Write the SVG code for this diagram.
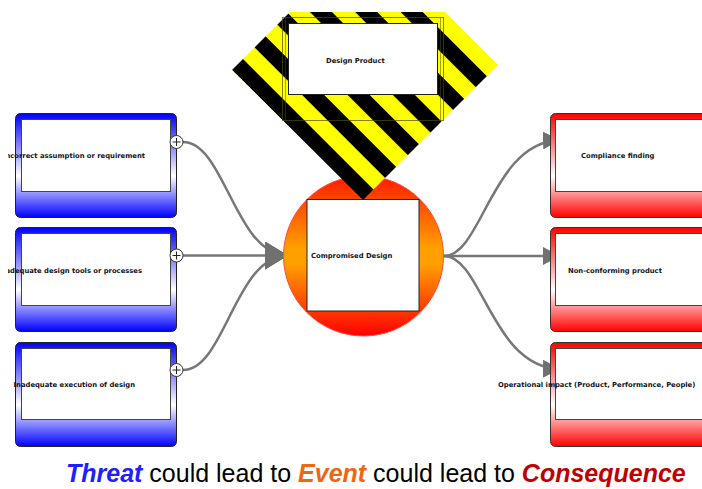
<svg xmlns="http://www.w3.org/2000/svg" width="702" height="489" viewBox="0 0 702 489">
<style>
.lbl{font-family:"DejaVu Sans",Verdana,sans-serif;font-weight:bold;font-size:6.8px;fill:#111122}
.outerB{fill:url(#gBlue);stroke:#222;stroke-width:1}
.outerR{fill:url(#gRed);stroke:#333;stroke-width:1}
.inner{fill:#fff;stroke:#444;stroke-width:1}
.conn{fill:none;stroke:#777;stroke-width:2.5}
.plus{fill:#fff;stroke:#333;stroke-width:1}
.pl{stroke:#222;stroke-width:1}
.cap{font-family:"Liberation Sans",Arial,sans-serif;font-size:25px;fill:#000}
</style>
<defs>
<linearGradient id="gBlue" x1="0" y1="0" x2="0" y2="1">
<stop offset="0" stop-color="#0000ff"/>
<stop offset="0.6" stop-color="#ffffff"/>
<stop offset="1" stop-color="#0000ff"/>
</linearGradient>
<linearGradient id="gRed" x1="0" y1="0" x2="0" y2="1">
<stop offset="0" stop-color="#ff0000"/>
<stop offset="0.6" stop-color="#ffffff"/>
<stop offset="1" stop-color="#ff0000"/>
</linearGradient>
<linearGradient id="gCirc" x1="0" y1="0" x2="0" y2="1">
<stop offset="0" stop-color="#ff1a00"/>
<stop offset="0.45" stop-color="#ffa000"/>
<stop offset="0.55" stop-color="#ffa000"/>
<stop offset="1" stop-color="#ff0000"/>
</linearGradient>
<pattern id="stripes" patternUnits="userSpaceOnUse" width="40" height="32.05" patternTransform="rotate(45) translate(0,30.15)">
<rect x="0" y="0" width="40" height="32.05" fill="#ffff00"/>
<rect x="0" y="0" width="40" height="15.6" fill="#000"/>
</pattern>
<marker id="arrL" markerUnits="userSpaceOnUse" markerWidth="23" markerHeight="28" refX="23" refY="14" orient="auto">
<path d="M0,0 L23,14 L0,28 z" fill="#707070"/>
</marker>
<marker id="arrR" markerUnits="userSpaceOnUse" markerWidth="17" markerHeight="18" refX="17" refY="9" orient="auto">
<path d="M0,0 L17,9 L0,18 z" fill="#707070"/>
</marker>
<clipPath id="clipL"><rect x="8" y="0" width="200" height="489"/></clipPath>
</defs>

<g id="connectors">
<path class="conn" d="M183,142 C225,142 235,255.5 288,255.5" marker-end="url(#arrL)"/>
<path class="conn" d="M183,255.5 L288,255.5" marker-end="url(#arrL)"/>
<path class="conn" d="M183,370 C225,370 235,255.5 288,255.5" marker-end="url(#arrL)"/>
<path class="conn" d="M444,256 C482,256 492,142 560,140" marker-end="url(#arrR)"/>
<path class="conn" d="M444,256 L560,256" marker-end="url(#arrR)"/>
<path class="conn" d="M444,256 C482,256 492,368 560,369" marker-end="url(#arrR)"/>
</g>

<g id="threat1">
<rect class="outerB" x="15.5" y="113.5" width="161" height="104" rx="5"/>
<rect class="inner" x="21.5" y="119.5" width="149" height="72"/>
<text class="lbl" x="145" y="157.5" text-anchor="end" clip-path="url(#clipL)">Incorrect assumption or requirement</text>
<circle class="plus" cx="176.5" cy="142" r="6.5"/>
<path class="pl" d="M172.5,142 H180.5 M176.5,138 V146"/>
</g>
<g id="threat2">
<rect class="outerB" x="15.5" y="227.5" width="161" height="104" rx="5"/>
<rect class="inner" x="21.5" y="233.5" width="149" height="72"/>
<text class="lbl" x="142" y="273" text-anchor="end" clip-path="url(#clipL)">Inadequate design tools or processes</text>
<circle class="plus" cx="176.5" cy="255.5" r="6.5"/>
<path class="pl" d="M172.5,255.5 H180.5 M176.5,251.5 V259.5"/>
</g>
<g id="threat3">
<rect class="outerB" x="15.5" y="342.5" width="161" height="104" rx="5"/>
<rect class="inner" x="21.5" y="348.5" width="149" height="71"/>
<text class="lbl" x="135" y="386.5" text-anchor="end" clip-path="url(#clipL)">Inadequate execution of design</text>
<circle class="plus" cx="176.5" cy="370" r="6.5"/>
<path class="pl" d="M172.5,370 H180.5 M176.5,366 V374"/>
</g>

<g id="event">
<circle cx="363.5" cy="256" r="80" fill="url(#gCirc)" stroke="#ff4a3a" stroke-width="1"/>
</g>

<g id="hazard">
<polygon points="290,12 445,12 498,65 363,200 232,70" fill="url(#stripes)"/>
<rect x="282.5" y="17.5" width="161" height="103" fill="none" stroke="#4d4d00" stroke-opacity="0.7" stroke-width="1"/>
<line x1="285.5" y1="17.5" x2="285.5" y2="120.5" stroke="#4d4d00" stroke-opacity="0.5" stroke-width="1"/>
<line x1="440.5" y1="17.5" x2="440.5" y2="120.5" stroke="#4d4d00" stroke-opacity="0.5" stroke-width="1"/>
</g>
<g id="designProduct">
<rect x="288.5" y="23.5" width="149" height="71" fill="#fff" stroke="#222" stroke-width="1"/>
<text class="lbl" x="326" y="62.5">Design Product</text>
</g>

<g id="compromisedDesign">
<rect x="307" y="199.5" width="112" height="111.5" fill="#fff" stroke="#222" stroke-width="1"/>
<text class="lbl" x="311" y="258">Compromised Design</text>
</g>

<g id="consequence1">
<rect class="outerR" x="550.5" y="113.5" width="161" height="104" rx="5"/>
<rect class="inner" x="555.5" y="119.5" width="149" height="72"/>
<text class="lbl" x="581" y="158">Compliance finding</text>
</g>
<g id="consequence2">
<rect class="outerR" x="550.5" y="227.5" width="161" height="104" rx="5"/>
<rect class="inner" x="555.5" y="233.5" width="149" height="72"/>
<text class="lbl" x="568" y="272.5">Non-conforming product</text>
</g>
<g id="consequence3">
<rect class="outerR" x="550.5" y="342.5" width="161" height="104" rx="5"/>
<rect class="inner" x="555.5" y="348.5" width="149" height="71"/>
<text class="lbl" x="498" y="386.5">Operational impact (Product, Performance, People)</text>
</g>

<g id="caption">
<text class="cap" x="66" y="482"><tspan font-weight="bold" font-style="italic" fill="#2020ff">Threat</tspan> could lead to <tspan font-weight="bold" font-style="italic" fill="#ee6611">Event</tspan> could lead to <tspan font-weight="bold" font-style="italic" fill="#c00000">Consequence</tspan></text>
</g>
</svg>
